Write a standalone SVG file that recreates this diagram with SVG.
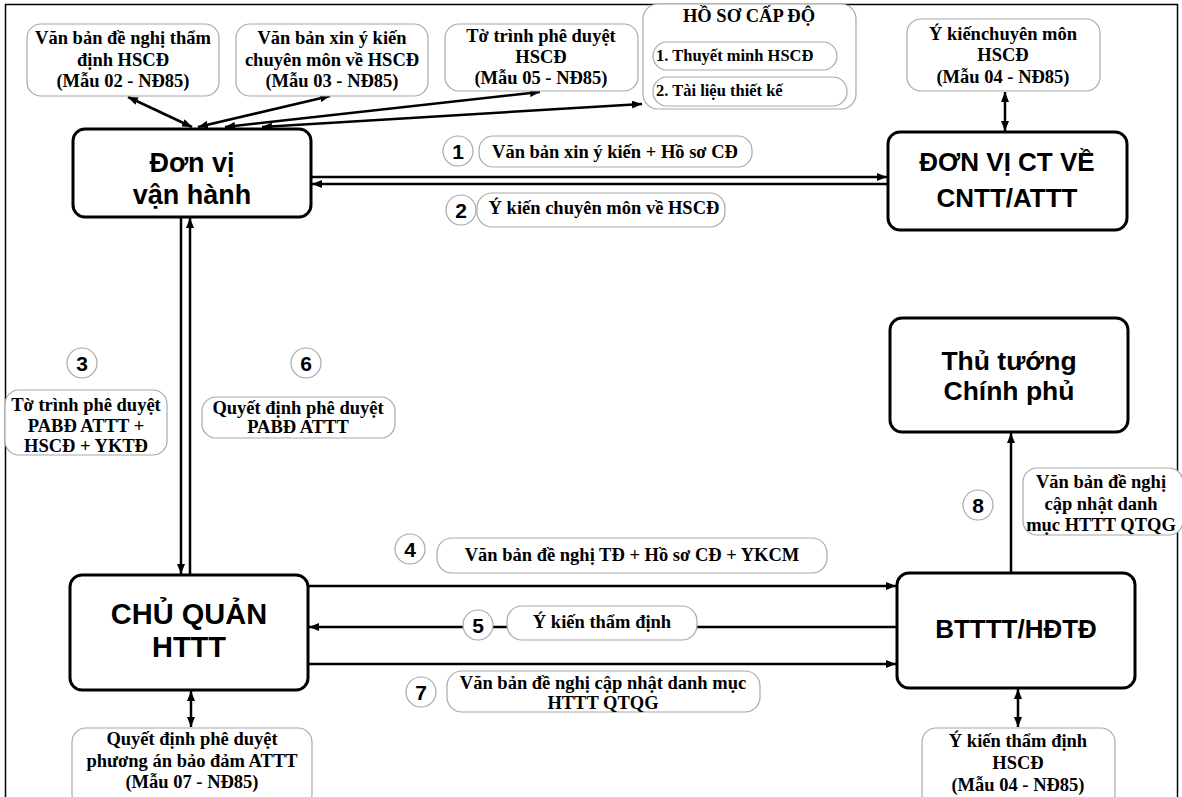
<svg xmlns="http://www.w3.org/2000/svg" width="1182" height="797" viewBox="0 0 1182 797">
  <style>
    .frame { fill: #fff; stroke: #000; stroke-width: 1.5; }
    .node { fill: #fff; stroke: #000; stroke-width: 3; }
    .note { fill: #fff; stroke: #a8a8a8; stroke-width: 1.2; }
    .num { fill: #fff; stroke: #a8a8a8; stroke-width: 1.2; }
    .wire { fill: none; stroke: #000; stroke-width: 2.5; }
    .big { font-family: "Liberation Sans", Arial, sans-serif; font-weight: bold; fill: #000; text-anchor: middle; }
    .lbl { font-family: "Liberation Serif", "Times New Roman", serif; font-weight: bold; font-size: 18.5px; fill: #000; text-anchor: middle; }
    .item { font-family: "Liberation Serif", "Times New Roman", serif; font-weight: bold; font-size: 16.5px; fill: #000; text-anchor: start; }
    .n { font-family: "Liberation Sans", Arial, sans-serif; font-weight: bold; font-size: 21px; fill: #000; text-anchor: middle; }
  </style>
  <defs>
    <marker id="head" viewBox="0 0 10 8" refX="10" refY="4" markerWidth="10" markerHeight="8" markerUnits="userSpaceOnUse" orient="auto-start-reverse">
      <path d="M0,0 L10,4 L0,8 z" fill="#000"/>
    </marker>
  </defs>

  <rect class="frame" x="5.5" y="4.5" width="1172" height="810"/>

  <!-- connectors -->
  <g id="connectors">
    <!-- documents around the operating unit -->
    <line class="wire" x1="128" y1="97" x2="192" y2="127" marker-start="url(#head)" marker-end="url(#head)"/>
    <line class="wire" x1="330" y1="96" x2="198" y2="127" marker-start="url(#head)" marker-end="url(#head)"/>
    <line class="wire" x1="540" y1="92" x2="225" y2="127" marker-start="url(#head)" marker-end="url(#head)"/>
    <line class="wire" x1="642" y1="104" x2="262" y2="127" marker-start="url(#head)" marker-end="url(#head)"/>
    <!-- 1 / 2 -->
    <line class="wire" x1="312" y1="177" x2="887" y2="177" marker-end="url(#head)"/>
    <line class="wire" x1="887" y1="184" x2="312" y2="184" marker-end="url(#head)"/>
    <!-- expert opinion template -->
    <line class="wire" x1="1005" y1="92" x2="1005" y2="131" marker-start="url(#head)" marker-end="url(#head)"/>
    <!-- 3 / 6 -->
    <line class="wire" x1="181" y1="218" x2="181" y2="574" marker-end="url(#head)"/>
    <line class="wire" x1="190" y1="574" x2="190" y2="218" marker-end="url(#head)"/>
    <!-- 4 / 5 / 7 -->
    <line class="wire" x1="309" y1="586" x2="896" y2="586" marker-end="url(#head)"/>
    <line class="wire" x1="896" y1="627" x2="309" y2="627" marker-end="url(#head)"/>
    <line class="wire" x1="309" y1="664" x2="896" y2="664" marker-end="url(#head)"/>
    <!-- 8 -->
    <line class="wire" x1="1011" y1="573" x2="1011" y2="433" marker-end="url(#head)"/>
    <!-- approval decision / appraisal templates -->
    <line class="wire" x1="191" y1="691" x2="191" y2="727" marker-start="url(#head)" marker-end="url(#head)"/>
    <line class="wire" x1="1018" y1="689" x2="1018" y2="727" marker-start="url(#head)" marker-end="url(#head)"/>
  </g>

  <!-- main actors -->
  <g id="don-vi-van-hanh">
    <rect class="node" x="73" y="129" width="238" height="88" rx="12"/>
    <text class="big" font-size="27" x="192" y="172">Đơn vị</text>
    <text class="big" font-size="27" x="192" y="204">vận hành</text>
  </g>
  <g id="don-vi-ct">
    <rect class="node" x="888" y="132" width="239" height="98" rx="12"/>
    <text class="big" font-size="26" x="1007" y="171">ĐƠN VỊ CT VỀ</text>
    <text class="big" font-size="26" x="1007" y="207">CNTT/ATTT</text>
  </g>
  <g id="thu-tuong">
    <rect class="node" x="890" y="318" width="238" height="114" rx="12"/>
    <text class="big" font-size="26.5" x="1009" y="370">Thủ tướng</text>
    <text class="big" font-size="26.5" x="1009" y="400">Chính phủ</text>
  </g>
  <g id="chu-quan">
    <rect class="node" x="70" y="575" width="238" height="115" rx="12"/>
    <text class="big" font-size="29" x="189" y="624">CHỦ QUẢN</text>
    <text class="big" font-size="29" x="189" y="657">HTTT</text>
  </g>
  <g id="btttt">
    <rect class="node" x="897" y="573" width="238" height="115" rx="12"/>
    <text class="big" font-size="26" x="1016" y="638">BTTTT/HĐTĐ</text>
  </g>

  <!-- document notes -->
  <g id="mau-02">
    <rect class="note" x="27" y="24" width="192" height="72" rx="14"/>
    <text class="lbl" x="123" y="44">Văn bản đề nghị thẩm</text>
    <text class="lbl" x="123" y="66">định HSCĐ</text>
    <text class="lbl" x="123" y="87">(Mẫu 02 - NĐ85)</text>
  </g>
  <g id="mau-03">
    <rect class="note" x="236" y="24" width="192" height="72" rx="14"/>
    <text class="lbl" x="332" y="44">Văn bản xin ý kiến</text>
    <text class="lbl" x="332" y="66">chuyên môn về HSCĐ</text>
    <text class="lbl" x="332" y="87">(Mẫu 03 - NĐ85)</text>
  </g>
  <g id="mau-05">
    <rect class="note" x="445" y="24" width="193" height="67" rx="14"/>
    <text class="lbl" x="541" y="42">Tờ trình phê duyệt</text>
    <text class="lbl" x="541" y="63">HSCĐ</text>
    <text class="lbl" x="541" y="84">(Mẫu 05 - NĐ85)</text>
  </g>
  <g id="ho-so-cap-do">
    <rect class="note" x="643" y="4" width="213" height="105" rx="15"/>
    <text class="lbl" font-size="17.5" x="749" y="22">HỒ SƠ CẤP ĐỘ</text>
    <rect class="note" x="653" y="42" width="184" height="28" rx="14"/>
    <text class="item" x="656" y="61">1. Thuyết minh HSCĐ</text>
    <rect class="note" x="653" y="77" width="194" height="29" rx="14"/>
    <text class="item" x="656" y="96">2. Tài liệu thiết kế</text>
  </g>
  <g id="mau-04-ct">
    <rect class="note" x="907" y="19" width="193" height="72" rx="14"/>
    <text class="lbl" x="1003" y="40">Ý kiếnchuyên môn</text>
    <text class="lbl" x="1003" y="61">HSCĐ</text>
    <text class="lbl" x="1003" y="83">(Mẫu 04 - NĐ85)</text>
  </g>

  <!-- step 1 -->
  <g id="step-1">
    <circle class="num" cx="458" cy="151" r="15"/>
    <text class="n" x="458" y="159">1</text>
    <rect class="note" x="479" y="136" width="273" height="31" rx="14"/>
    <text class="lbl" x="615" y="158">Văn bản xin ý kiến + Hồ sơ CĐ</text>
  </g>
  <!-- step 2 -->
  <g id="step-2">
    <circle class="num" cx="461" cy="210" r="15"/>
    <text class="n" x="461" y="218">2</text>
    <rect class="note" x="477" y="193" width="248" height="34" rx="15"/>
    <text class="lbl" x="604" y="214">Ý kiến chuyên môn về HSCĐ</text>
  </g>
  <!-- step 3 -->
  <g id="step-3">
    <circle class="num" cx="82" cy="363" r="15"/>
    <text class="n" x="82" y="371">3</text>
    <rect class="note" x="5" y="390" width="162" height="65" rx="14"/>
    <text class="lbl" x="86" y="411">Tờ trình phê duyệt</text>
    <text class="lbl" x="86" y="432">PABĐ ATTT +</text>
    <text class="lbl" x="86" y="452">HSCĐ + YKTĐ</text>
  </g>
  <!-- step 6 -->
  <g id="step-6">
    <circle class="num" cx="306" cy="363" r="15"/>
    <text class="n" x="306" y="371">6</text>
    <rect class="note" x="202" y="397" width="193" height="41" rx="14"/>
    <text class="lbl" x="298" y="414">Quyết định phê duyệt</text>
    <text class="lbl" x="298" y="433">PABĐ ATTT</text>
  </g>
  <!-- step 4 -->
  <g id="step-4">
    <circle class="num" cx="410" cy="549" r="15"/>
    <text class="n" x="410" y="557">4</text>
    <rect class="note" x="437" y="538" width="390" height="35" rx="15"/>
    <text class="lbl" x="632" y="561">Văn bản đề nghị TĐ + Hồ sơ CĐ + YKCM</text>
  </g>
  <!-- step 5 -->
  <g id="step-5">
    <circle class="num" cx="478" cy="625" r="15"/>
    <text class="n" x="478" y="633">5</text>
    <rect class="note" x="507" y="606" width="190" height="34" rx="15"/>
    <text class="lbl" x="602" y="628">Ý kiến thẩm định</text>
  </g>
  <!-- step 7 -->
  <g id="step-7">
    <circle class="num" cx="421" cy="692" r="15"/>
    <text class="n" x="421" y="700">7</text>
    <rect class="note" x="447" y="671" width="313" height="41" rx="15"/>
    <text class="lbl" x="603" y="689">Văn bản đề nghị cập nhật danh mục</text>
    <text class="lbl" x="603" y="709">HTTT QTQG</text>
  </g>
  <!-- step 8 -->
  <g id="step-8">
    <circle class="num" cx="978" cy="505" r="15"/>
    <text class="n" x="978" y="513">8</text>
    <rect class="note" x="1023" y="468" width="160" height="67" rx="14"/>
    <text class="lbl" x="1101" y="488">Văn bản đề nghị</text>
    <text class="lbl" x="1101" y="510">cập nhật danh</text>
    <text class="lbl" x="1101" y="531">mục HTTT QTQG</text>
  </g>

  <g id="mau-07">
    <rect class="note" x="72" y="728" width="240" height="80" rx="14"/>
    <text class="lbl" x="192" y="745">Quyết định phê duyệt</text>
    <text class="lbl" x="192" y="767">phương án bảo đảm ATTT</text>
    <text class="lbl" x="192" y="788">(Mẫu 07 - NĐ85)</text>
  </g>
  <g id="mau-04-td">
    <rect class="note" x="922" y="728" width="193" height="80" rx="14"/>
    <text class="lbl" x="1018" y="747">Ý kiến thẩm định</text>
    <text class="lbl" x="1018" y="769">HSCĐ</text>
    <text class="lbl" x="1018" y="791">(Mẫu 04 - NĐ85)</text>
  </g>
</svg>
